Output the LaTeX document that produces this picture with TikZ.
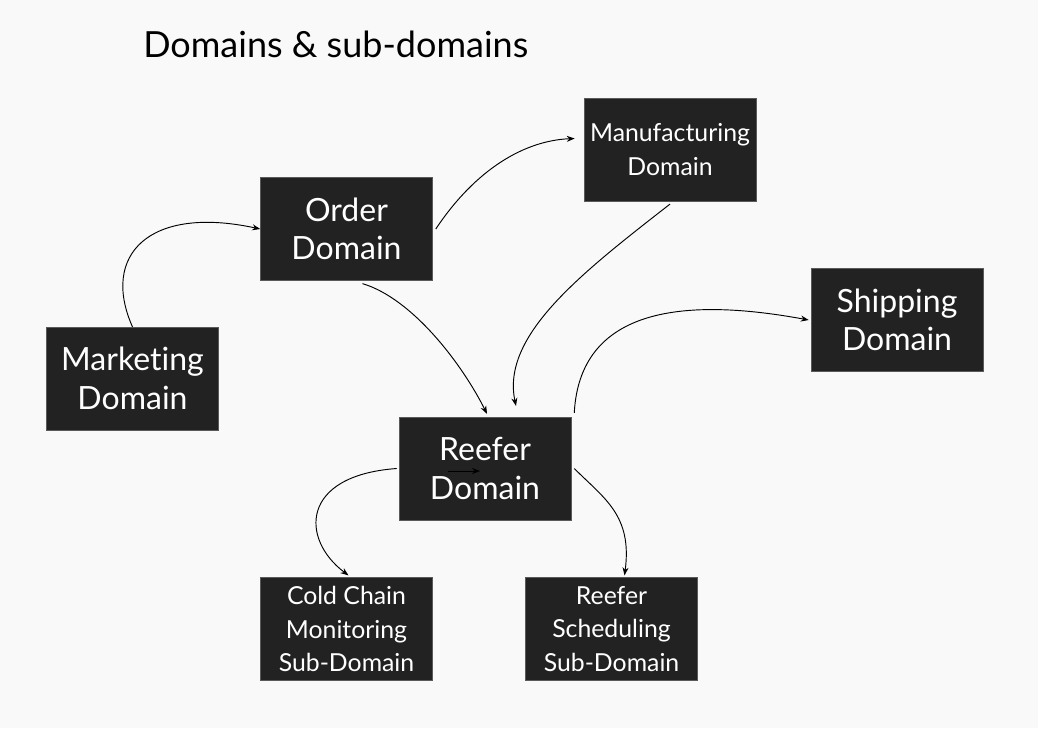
\documentclass[tikz,border=0pt]{standalone}
\usepackage{fontspec}
\setmainfont{Lato}[Ligatures=NoCommon]
\usetikzlibrary{arrows.meta,calc}
\definecolor{boxgray}{HTML}{222222}
\definecolor{bggray}{HTML}{F9F9F9}
\definecolor{edgegray}{HTML}{5A5A5A}
\tikzset{
  dom/.style={draw=edgegray, fill=boxgray, text=white, rectangle, line width=0.4pt, minimum width=129pt, minimum height=77pt, inner sep=0pt, align=center, font=\fontsize{24}{29}\selectfont},
  sdom/.style={dom, font=\fontsize{18.6}{25}\selectfont},
  arr/.style={-{Stealth[length=6pt,width=4.5pt]}, line width=0.7pt},
}

\begin{document}
\begin{tikzpicture}[x=0.75pt, y=-0.75pt]

% Background
\fill[bggray] (0,0) rectangle (1038,728);
\useasboundingbox (0,0) rectangle (1038,728);

% Title
\node[anchor=base west, inner sep=0pt, font=\fontsize{27}{30}\selectfont] (title) at (143,57) {Domains \& sub-domains};

% Domains
\node[dom] (ord) at (346.5,229) {Order\\Domain};
\node[sdom] (manu) at (670,149.5) {Manufacturing\\Domain};
\node[dom] (mkt) at (132.5,378.5) {Marketing\\Domain};
\node[dom] (ship) at (897,320) {Shipping\\Domain};
\node[dom] (reefer) at (485,468.5) {Reefer\\Domain};

% Sub-domains
\node[sdom] (cold) at (346.5,629) {Cold Chain\\Monitoring\\Sub-Domain};
\node[sdom] (sched) at (611.5,629) {Reefer\\Scheduling\\Sub-Domain};

% Connectors
\draw[arr] (mkt.north) .. controls +(-32,-72) and +(-111,-24) .. (ord.west);
\draw[arr] ($(ord.east)+(3,0)$) .. controls +(40,-60) and +(-50,2) .. ($(manu.west)+(-9,-11)$);
\draw[arr] ($(ord.south)+(16,3)$) .. controls +(50,15) and +(-25,-50) .. ($(reefer.north)+(2,-3)$);
\draw[arr] ($(manu.south)+(0,3)$) .. controls +(-90,70) and +(-15,-70) .. ($(reefer.north)+(31,-11)$);
\draw[arr] ($(reefer.north east)+(3,-4)$) .. controls +(6,-113) and +(-109,-20) .. ($(ship.west)+(-2,0)$);
\draw[arr] ($(reefer.west)+(-2,0)$) .. controls +(-97,7) and +(-48,-36) .. ($(cold.north)+(2,-2)$);
\draw[arr] ($(reefer.east)+(3,0)$) .. controls +(30,30) and +(8,-60) .. ($(sched.north)+(13,-2)$);

% Stray arrow inside the reefer box
\coordinate (tipA) at ($(reefer.center)+(-37,2.5)$);
\coordinate (tipB) at ($(reefer.center)+(-5,2.5)$);
\draw[arr, line width=0.5pt] (tipA) -- (tipB);

\end{tikzpicture}
\end{document}
